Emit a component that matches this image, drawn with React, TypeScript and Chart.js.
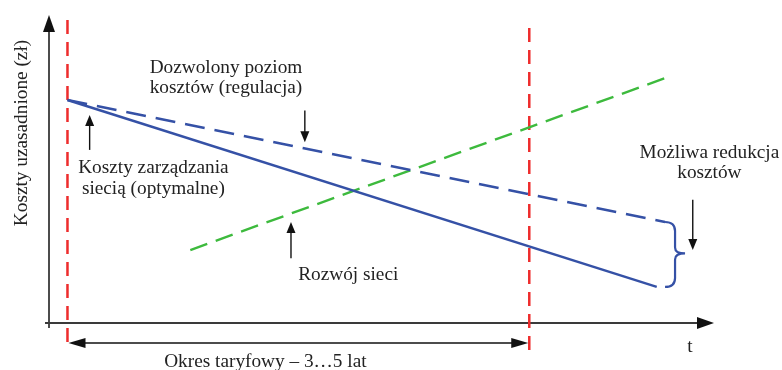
import React, { useEffect, useRef } from "react";
import { Chart, registerables } from "chart.js";

Chart.register(...registerables);

// Time axis (years, tariff period starts at 0) and cost axis (arbitrary units)
const xRange = [-0.2, 7.0];
const yRange = [0, 10];
const tariffPeriod = [0, 5];

// Series
const optimalCostsX = [0, 6.38];
const optimalCostsY = [7.24, 1.17];
const allowedCostsX = [0, 6.47];
const allowedCostsY = [7.24, 3.28];
const networkGrowthX = [1.33, 6.47];
const networkGrowthY = [2.37, 7.95];

// Labels
const yAxisTitle = "Koszty uzasadnione (zł)";
const xAxisTitle = "t";
const allowedLabel = ["Dozwolony poziom", "kosztów (regulacja)"];
const optimalLabel = ["Koszty zarządzania", "siecią (optymalne)"];
const growthLabel = ["Rozwój sieci"];
const reductionLabel = ["Możliwa redukcja", "kosztów"];
const periodLabel = "Okres taryfowy – 3…5 lat";

const BLUE = "#3551a6";
const GREEN = "#3dba3d";
const RED = "#ee2c2c";
const INK = "#222222";
const FONT = '19.3px "Liberation Serif", "Times New Roman", serif';

const pts = (xs: number[], ys: number[]) => xs.map((x, i) => ({ x, y: ys[i] }));

function arrowHead(ctx: CanvasRenderingContext2D, tx: number, ty: number, dx: number, dy: number, len: number, half: number) {
  const bx = tx - dx * len;
  const by = ty - dy * len;
  const px = -dy, py = dx;
  ctx.beginPath();
  ctx.moveTo(tx, ty);
  ctx.lineTo(bx + px * half, by + py * half);
  ctx.lineTo(bx - px * half, by - py * half);
  ctx.closePath();
  ctx.fill();
}

function vArrow(ctx: CanvasRenderingContext2D, x: number, yFrom: number, yTip: number) {
  const dir = yTip > yFrom ? 1 : -1;
  ctx.beginPath();
  ctx.moveTo(x, yFrom);
  ctx.lineTo(x, yTip - dir * 8);
  ctx.stroke();
  arrowHead(ctx, x, yTip, 0, dir, 11, 4.5);
}

function lines(ctx: CanvasRenderingContext2D, texts: string[], cx: number, baseline: number, gap: number) {
  texts.forEach((t, i) => ctx.fillText(t, cx, baseline + i * gap));
}

const diagramPlugin = {
  id: "diagram",
  beforeDatasetsDraw(chart: any) {
    const { ctx, chartArea: a, scales } = chart;
    const xs = scales.x;
    ctx.save();
    // axes
    ctx.strokeStyle = "#111";
    ctx.fillStyle = "#111";
    ctx.lineWidth = 1.5;
    ctx.beginPath();
    ctx.moveTo(a.left, a.bottom + 5);
    ctx.lineTo(a.left, a.top + 12);
    ctx.stroke();
    arrowHead(ctx, a.left, a.top, 0, -1, 17, 6);
    ctx.strokeStyle = "#3a3a3a";
    ctx.lineWidth = 2;
    ctx.beginPath();
    ctx.moveTo(a.left - 4, a.bottom);
    ctx.lineTo(a.right - 12, a.bottom);
    ctx.stroke();
    arrowHead(ctx, a.right, a.bottom, 1, 0, 17, 6);

    // tariff period boundaries
    ctx.strokeStyle = RED;
    ctx.lineWidth = 2.5;
    ctx.setLineDash([14, 8]);
    tariffPeriod.forEach((t, i) => {
      const x = xs.getPixelForValue(t);
      ctx.beginPath();
      ctx.moveTo(x, a.top + (i === 0 ? 5 : 13));
      ctx.lineTo(x, a.bottom + (i === 0 ? 24 : 27));
      ctx.stroke();
    });
    ctx.setLineDash([]);
    ctx.restore();
  },
  afterDatasetsDraw(chart: any) {
    const { ctx, chartArea: a, scales } = chart;
    const xs = scales.x, ys = scales.y;
    const X = (v: number) => xs.getPixelForValue(v);
    const Y = (v: number) => ys.getPixelForValue(v);
    ctx.save();
    ctx.font = FONT;
    ctx.fillStyle = INK;
    ctx.textAlign = "center";
    ctx.textBaseline = "alphabetic";

    // period double arrow
    const p0 = X(tariffPeriod[0]), p1 = X(tariffPeriod[1]);
    const ay = a.bottom + 20;
    ctx.strokeStyle = "#111";
    ctx.fillStyle = "#111";
    ctx.lineWidth = 1.5;
    ctx.beginPath();
    ctx.moveTo(p0 + 10, ay);
    ctx.lineTo(p1 - 10, ay);
    ctx.stroke();
    arrowHead(ctx, p0 + 1, ay, -1, 0, 17, 5);
    arrowHead(ctx, p1 - 1, ay, 1, 0, 17, 5);
    ctx.fillStyle = INK;
    ctx.fillText(periodLabel, (p0 + p1) / 2 - 33, a.bottom + 44);

    // x axis letter
    ctx.fillText(xAxisTitle, a.right - 24, a.bottom + 29);

    // y axis title
    ctx.save();
    ctx.translate(a.left - 27, a.top + 118);
    ctx.rotate(-Math.PI / 2);
    ctx.textBaseline = "middle";
    ctx.fillText(yAxisTitle, 0, 0);
    ctx.restore();

    // annotations
    ctx.fillStyle = INK;
    lines(ctx, allowedLabel, X(1.716), Y(8.12), 20);
    lines(ctx, optimalLabel, X(0.93), Y(4.87), 21);
    lines(ctx, growthLabel, X(3.04), Y(1.4), 20);
    lines(ctx, reductionLabel, X(6.95), Y(5.36), 20);

    ctx.strokeStyle = "#111";
    ctx.fillStyle = "#111";
    ctx.lineWidth = 1.4;
    vArrow(ctx, X(0.24), Y(5.62), Y(6.75));
    vArrow(ctx, X(2.57), Y(6.9), Y(5.87));
    vArrow(ctx, X(2.42), Y(2.1), Y(3.28));
    vArrow(ctx, X(6.77), Y(4.0), Y(2.37));

    // brace between allowed and optimal costs end points
    const bx = X(allowedCostsX[1]) + 10;
    const top = Y(allowedCostsY[1]);
    const bot = Y(optimalCostsY[1]);
    const mid = (top + bot) / 2 - 1;
    ctx.strokeStyle = BLUE;
    ctx.lineWidth = 2.2;
    ctx.beginPath();
    ctx.moveTo(bx - 10, top);
    ctx.quadraticCurveTo(bx, top, bx, top + 9);
    ctx.lineTo(bx, mid - 6);
    ctx.quadraticCurveTo(bx, mid, bx + 10, mid);
    ctx.quadraticCurveTo(bx, mid, bx, mid + 6);
    ctx.lineTo(bx, bot - 9);
    ctx.quadraticCurveTo(bx, bot, bx - 10, bot);
    ctx.stroke();

    ctx.restore();
  },
};

export default function App() {
  const ref = useRef<HTMLCanvasElement | null>(null);
  useEffect(() => {
    if (!ref.current) return;
    const chart = new Chart(ref.current, {
      type: "scatter",
      data: {
        datasets: [
          {
            label: "Koszty zarządzania siecią (optymalne)",
            data: pts(optimalCostsX, optimalCostsY),
            showLine: true,
            borderColor: BLUE,
            borderWidth: 2.4,
            pointRadius: 0,
          },
          {
            label: "Dozwolony poziom kosztów (regulacja)",
            data: pts(allowedCostsX, allowedCostsY),
            showLine: true,
            borderColor: BLUE,
            borderWidth: 2.4,
            borderDash: [20, 10],
            pointRadius: 0,
          },
          {
            label: "Rozwój sieci",
            data: pts(networkGrowthX, networkGrowthY),
            showLine: true,
            borderColor: GREEN,
            borderWidth: 2.4,
            borderDash: [18, 9],
            pointRadius: 0,
          },
        ],
      },
      options: {
        animation: false,
        responsive: false,
        events: [],
        layout: { padding: { left: 49, right: 68, top: 15, bottom: 47 } },
        plugins: { legend: { display: false }, tooltip: { enabled: false } },
        scales: {
          x: { type: "linear", min: xRange[0], max: xRange[1], display: false },
          y: { type: "linear", min: yRange[0], max: yRange[1], display: false },
        },
      },
      plugins: [diagramPlugin],
    });
    return () => chart.destroy();
  }, []);
  return (
    <div style={{ position: "fixed", left: 0, top: 0, width: 782, height: 370, background: "#fff" }}>
      <canvas ref={ref} width={782} height={370} />
    </div>
  );
}
